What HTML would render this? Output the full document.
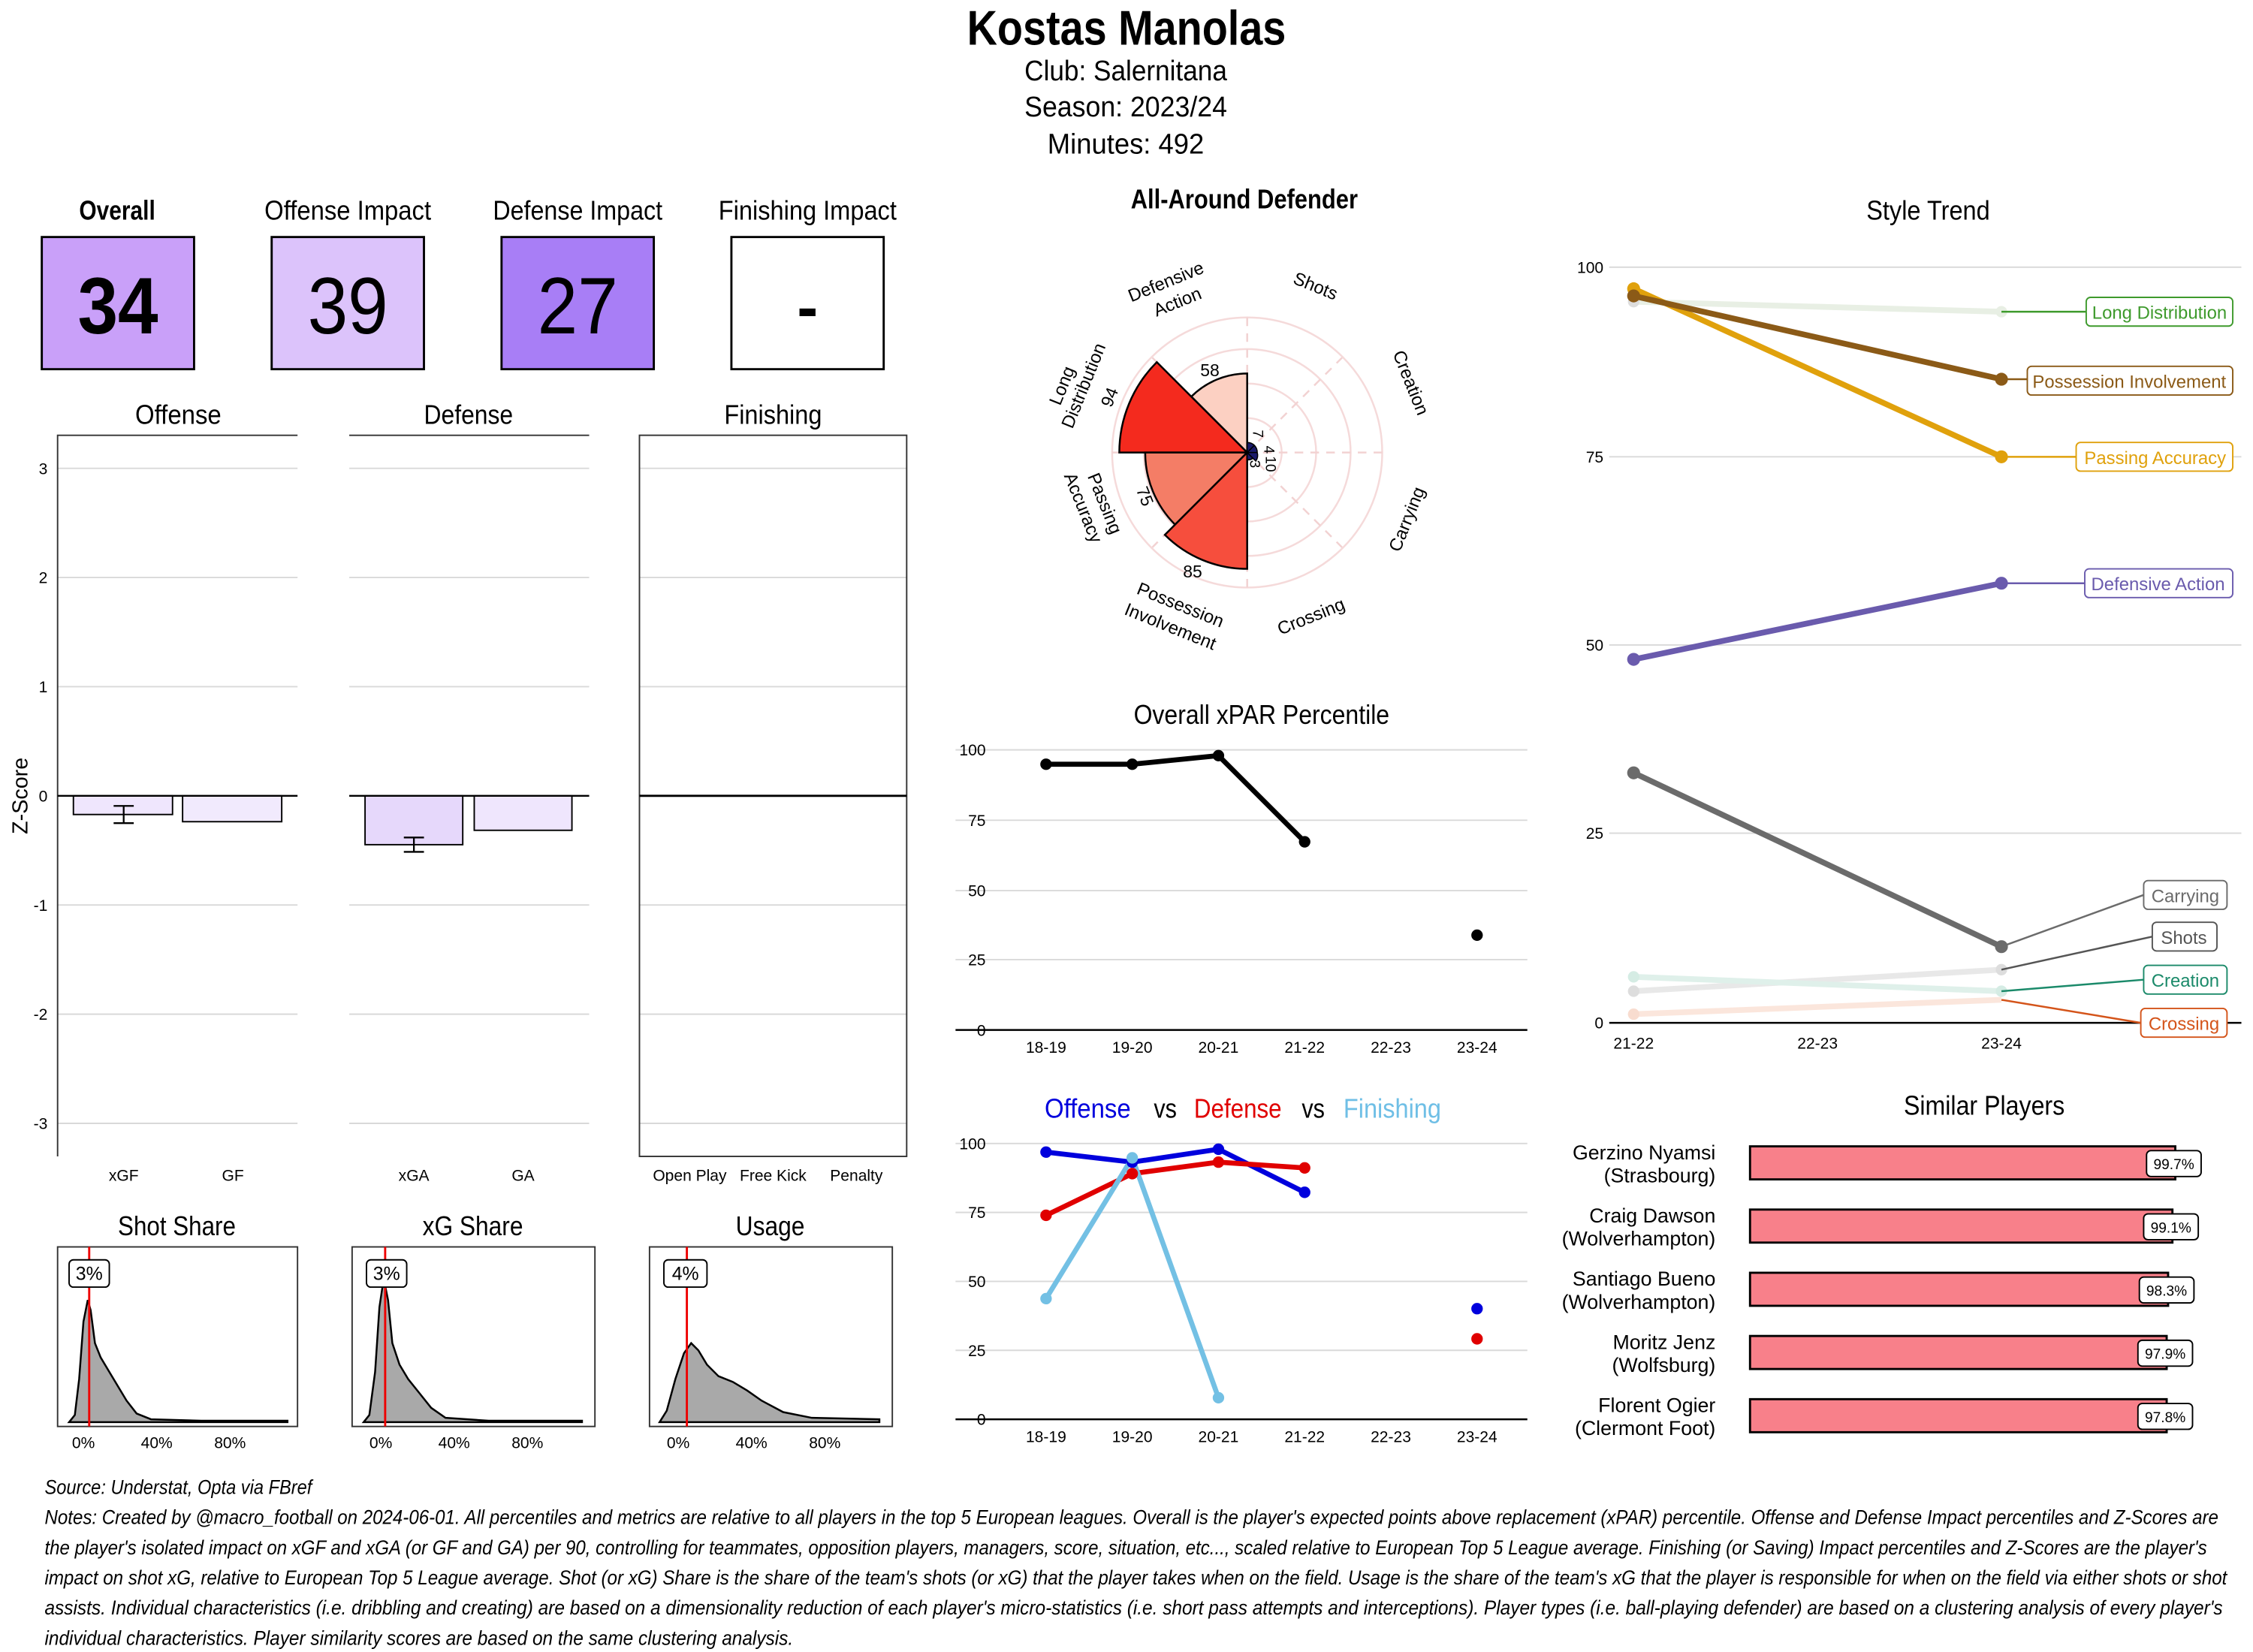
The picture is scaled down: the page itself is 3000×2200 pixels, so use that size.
<!DOCTYPE html>
<html><head><meta charset="utf-8"><style>
html,body{margin:0;padding:0;background:#fff}
svg{display:block}
text{font-family:"Liberation Sans Narrow","Liberation Sans",sans-serif;fill:#000}
.a{font-family:"Liberation Sans",sans-serif;font-size:11px;fill:#444}
.t{font-size:19px}
.g{stroke:#d9d9d9;stroke-width:1}
</style></head><body>
<svg width="3000" height="2200" viewBox="0 0 1568 1150" xmlns="http://www.w3.org/2000/svg">
<rect width="1568" height="1150" fill="#fff"/>
<!-- Header -->
<text x="673" y="31" font-size="34" font-weight="bold" textLength="222" lengthAdjust="spacingAndGlyphs">Kostas Manolas</text>
<text x="713" y="56" font-size="20" textLength="141" lengthAdjust="spacingAndGlyphs">Club:  Salernitana</text>
<text x="713" y="81" font-size="20" textLength="141" lengthAdjust="spacingAndGlyphs">Season:  2023/24</text>
<text x="729" y="107" font-size="20" textLength="109" lengthAdjust="spacingAndGlyphs">Minutes:  492</text>

<!-- Metric boxes -->
<text x="55" y="153" font-size="19" font-weight="bold" textLength="53" lengthAdjust="spacingAndGlyphs">Overall</text>
<text x="184" y="153" font-size="19" textLength="116" lengthAdjust="spacingAndGlyphs">Offense Impact</text>
<text x="343" y="153" font-size="19" textLength="118" lengthAdjust="spacingAndGlyphs">Defense Impact</text>
<text x="500" y="153" font-size="19" textLength="124" lengthAdjust="spacingAndGlyphs">Finishing Impact</text>
<rect x="29" y="165" width="106" height="92" fill="#c9a0f9" stroke="#000" stroke-width="1.5"/>
<rect x="189" y="165" width="106" height="92" fill="#dcc3fb" stroke="#000" stroke-width="1.5"/>
<rect x="349" y="165" width="106" height="92" fill="#a87ef6" stroke="#000" stroke-width="1.5"/>
<rect x="509" y="165" width="106" height="92" fill="#fff" stroke="#000" stroke-width="1.5"/>
<text x="82" y="232" text-anchor="middle" font-size="56" font-weight="bold" textLength="56" lengthAdjust="spacingAndGlyphs">34</text>
<text x="242" y="232" text-anchor="middle" font-size="56" textLength="56" lengthAdjust="spacingAndGlyphs">39</text>
<text x="402" y="232" text-anchor="middle" font-size="56" textLength="56" lengthAdjust="spacingAndGlyphs">27</text>
<text x="562" y="229" text-anchor="middle" font-size="44" font-weight="bold">-</text>

<!-- Z-score panels -->
<text x="124" y="295" text-anchor="middle" class="t" textLength="60" lengthAdjust="spacingAndGlyphs">Offense</text>
<text x="326" y="295" text-anchor="middle" class="t" textLength="62" lengthAdjust="spacingAndGlyphs">Defense</text>
<text x="538" y="295" text-anchor="middle" class="t" textLength="68" lengthAdjust="spacingAndGlyphs">Finishing</text>
<g class="g">
<line x1="40" x2="207" y1="326" y2="326"/><line x1="40" x2="207" y1="402" y2="402"/><line x1="40" x2="207" y1="478" y2="478"/><line x1="40" x2="207" y1="630" y2="630"/><line x1="40" x2="207" y1="706" y2="706"/><line x1="40" x2="207" y1="782" y2="782"/>
<line x1="243" x2="410" y1="326" y2="326"/><line x1="243" x2="410" y1="402" y2="402"/><line x1="243" x2="410" y1="478" y2="478"/><line x1="243" x2="410" y1="630" y2="630"/><line x1="243" x2="410" y1="706" y2="706"/><line x1="243" x2="410" y1="782" y2="782"/>
<line x1="445" x2="631" y1="326" y2="326"/><line x1="445" x2="631" y1="402" y2="402"/><line x1="445" x2="631" y1="478" y2="478"/><line x1="445" x2="631" y1="630" y2="630"/><line x1="445" x2="631" y1="706" y2="706"/><line x1="445" x2="631" y1="782" y2="782"/>
</g>
<g stroke="#333" fill="none" stroke-width="1">
<polyline points="40,805 40,303 207,303"/>
<line x1="243" y1="303" x2="410" y2="303"/>
<rect x="445" y="303" width="186" height="502"/>
</g>
<g class="a" font-size="11" text-anchor="end">
<text x="33" y="330">3</text><text x="33" y="406">2</text><text x="33" y="482">1</text><text x="33" y="558">0</text><text x="33" y="634">-1</text><text x="33" y="710">-2</text><text x="33" y="786">-3</text>
</g>
<text transform="translate(19,554) rotate(-90)" text-anchor="middle" font-size="15">Z-Score</text>
<rect x="51" y="554" width="69" height="13" fill="#efe6fd" stroke="#000"/>
<rect x="127" y="554" width="69" height="18" fill="#f1eafd" stroke="#000"/>
<rect x="254" y="554" width="68" height="34" fill="#e6d8fb" stroke="#000"/>
<rect x="330" y="554" width="68" height="24" fill="#efe6fd" stroke="#000"/>
<g stroke="#000" stroke-width="1.2">
<line x1="86" y1="561" x2="86" y2="573"/><line x1="79" y1="561" x2="93" y2="561"/><line x1="79" y1="573" x2="93" y2="573"/>
<line x1="288" y1="583" x2="288" y2="593"/><line x1="281" y1="583" x2="295" y2="583"/><line x1="281" y1="593" x2="295" y2="593"/>
<line x1="40" y1="554" x2="207" y2="554"/><line x1="243" y1="554" x2="410" y2="554"/><line x1="445" y1="554" x2="631" y2="554" stroke-width="1.5"/>
</g>
<g class="a" text-anchor="middle">
<text x="86" y="822">xGF</text><text x="162" y="822">GF</text><text x="288" y="822">xGA</text><text x="364" y="822">GA</text>
<text x="480" y="822">Open Play</text><text x="538" y="822">Free Kick</text><text x="596" y="822">Penalty</text>
</g>

<!-- Density plots -->
<text x="123" y="860" text-anchor="middle" class="t" textLength="82" lengthAdjust="spacingAndGlyphs">Shot Share</text>
<text x="329" y="860" text-anchor="middle" class="t" textLength="70" lengthAdjust="spacingAndGlyphs">xG Share</text>
<text x="536" y="860" text-anchor="middle" class="t" textLength="48" lengthAdjust="spacingAndGlyphs">Usage</text>
<g>
<rect x="40" y="868" width="167" height="125" fill="#fff" stroke="#333"/>
<path d="M48,990 L52,985 L55,960 L58,920 L61,905 L63,912 L66,935 L70,945 L76,955 L82,965 L88,975 L95,984 L105,988 L140,989 L200,989 L200,990 Z" fill="#a9a9a9" stroke="#000" stroke-width="1.3"/>
<line x1="62" y1="868" x2="62" y2="993" stroke="#e00" stroke-width="1.5"/>
<rect x="48" y="877" width="28" height="19" rx="3" fill="#fff" stroke="#000"/><text x="62" y="891" text-anchor="middle" font-size="13" font-family="Liberation Sans">3%</text>
<rect x="245" y="868" width="169" height="125" fill="#fff" stroke="#333"/>
<path d="M253,990 L257,985 L261,955 L264,910 L267,890 L270,905 L273,935 L278,950 L284,960 L292,970 L300,980 L310,987 L340,989 L405,989 L405,990 Z" fill="#a9a9a9" stroke="#000" stroke-width="1.3"/>
<line x1="268" y1="868" x2="268" y2="993" stroke="#e00" stroke-width="1.5"/>
<rect x="255" y="877" width="28" height="19" rx="3" fill="#fff" stroke="#000"/><text x="269" y="891" text-anchor="middle" font-size="13" font-family="Liberation Sans">3%</text>
<rect x="452" y="868" width="169" height="125" fill="#fff" stroke="#333"/>
<path d="M459,990 L464,982 L470,960 L476,942 L481,935 L486,940 L492,950 L500,958 L510,962 L520,968 L530,975 L545,983 L565,987 L612,988 L612,990 Z" fill="#a9a9a9" stroke="#000" stroke-width="1.3"/>
<line x1="478" y1="868" x2="478" y2="993" stroke="#e00" stroke-width="1.5"/>
<rect x="462" y="877" width="30" height="19" rx="3" fill="#fff" stroke="#000"/><text x="477" y="891" text-anchor="middle" font-size="13" font-family="Liberation Sans">4%</text>
</g>
<g class="a" text-anchor="middle">
<text x="58" y="1008">0%</text><text x="109" y="1008">40%</text><text x="160" y="1008">80%</text>
<text x="265" y="1008">0%</text><text x="316" y="1008">40%</text><text x="367" y="1008">80%</text>
<text x="472" y="1008">0%</text><text x="523" y="1008">40%</text><text x="574" y="1008">80%</text>
</g>

<!-- Polar -->
<text x="866" y="145" text-anchor="middle" font-size="19" font-weight="bold" textLength="158" lengthAdjust="spacingAndGlyphs">All-Around Defender</text>
<g transform="translate(868,315)">
<g fill="none" stroke="#f5dada" stroke-width="1.3">
<circle r="24"/><circle r="48"/><circle r="72"/><circle r="94"/>
</g>
<g stroke="#f2d2d2" stroke-width="1.3" stroke-dasharray="6,5">
<line x1="0" y1="0" x2="0" y2="-94"/><line x1="0" y1="0" x2="0" y2="94"/><line x1="0" y1="0" x2="94" y2="0"/><line x1="0" y1="0" x2="-94" y2="0"/>
<line x1="0" y1="0" x2="66" y2="-66"/><line x1="0" y1="0" x2="-66" y2="-66"/><line x1="0" y1="0" x2="66" y2="66"/><line x1="0" y1="0" x2="-66" y2="66"/>
</g>
<path d="M0,0 L0,-55 A55,55 0 0 0 -38.9,-38.9 Z" fill="#fcd0c2" stroke="#000" stroke-width="1.3"/>
<path d="M0,0 L-62.9,-62.9 A89,89 0 0 0 -89,0 Z" fill="#f42a1e" stroke="#000" stroke-width="1.3"/>
<path d="M0,0 L-71,0 A71,71 0 0 0 -50.2,50.2 Z" fill="#f47d66" stroke="#000" stroke-width="1.3"/>
<path d="M0,0 L-57.3,57.3 A81,81 0 0 0 0,81 Z" fill="#f64e3d" stroke="#000" stroke-width="1.3"/>
<path d="M0,0 L0,-7 A7,7 0 0 1 5,-5 Z M0,0 L5,-5 A7,7 0 0 1 7,0 Z M0,0 L7,0 A7,7 0 0 1 6,6 Z M0,0 L4,4 A5,5 0 0 1 0,5 Z" fill="#1a1a6a" stroke="#000" stroke-width="0.8"/>
<g font-size="12" text-anchor="middle" font-family="Liberation Sans">
<text x="-26" y="-53">58</text>
<text transform="translate(-92,-37) rotate(-68)">94</text>
<text transform="translate(-75,32) rotate(68)">75</text>
<text x="-38" y="87">85</text>
<text transform="translate(4,-13) rotate(90)" font-size="10">7</text>
<text transform="translate(12,-2) rotate(90)" font-size="10">4</text>
<text transform="translate(13,8) rotate(90)" font-size="10">10</text>
<text transform="translate(2,8) rotate(90)" font-size="10">3</text>
</g>
<g font-size="12.5" text-anchor="middle" font-family="Liberation Sans" fill="#222">
<text transform="translate(-55,-115) rotate(-22)">Defensive</text>
<text transform="translate(-47,-101) rotate(-22)">Action</text>
<text transform="translate(46,-112) rotate(22)">Shots</text>
<text transform="translate(110,-47) rotate(68)">Creation</text>
<text transform="translate(115,48) rotate(-68)">Carrying</text>
<text transform="translate(46,118) rotate(-22)">Crossing</text>
<text transform="translate(-48,110) rotate(22)">Possession</text>
<text transform="translate(-55,125) rotate(22)">Involvement</text>
<text transform="translate(-125,-45) rotate(-68)">Long</text>
<text transform="translate(-110,-45) rotate(-68)">Distribution</text>
<text transform="translate(-103,37) rotate(68)">Passing</text>
<text transform="translate(-118,40) rotate(68)">Accuracy</text>
</g>
</g>

<!-- xPAR -->
<text x="878" y="504" text-anchor="middle" class="t" textLength="178" lengthAdjust="spacingAndGlyphs">Overall xPAR Percentile</text>
<g class="g"><line x1="665" x2="1063" y1="522" y2="522"/><line x1="665" x2="1063" y1="571" y2="571"/><line x1="665" x2="1063" y1="620" y2="620"/><line x1="665" x2="1063" y1="668" y2="668"/></g>
<line x1="665" x2="1063" y1="717" y2="717" stroke="#000" stroke-width="1.3"/>
<g class="a" text-anchor="end"><text x="686" y="526">100</text><text x="686" y="575">75</text><text x="686" y="624">50</text><text x="686" y="672">25</text><text x="686" y="721">0</text></g>
<g class="a" text-anchor="middle"><text x="728" y="733">18-19</text><text x="788" y="733">19-20</text><text x="848" y="733">20-21</text><text x="908" y="733">21-22</text><text x="968" y="733">22-23</text><text x="1028" y="733">23-24</text></g>
<polyline points="728,532 788,532 848,526 908,586" fill="none" stroke="#000" stroke-width="3.5"/>
<g fill="#000"><circle cx="728" cy="532" r="4"/><circle cx="788" cy="532" r="4"/><circle cx="848" cy="526" r="4"/><circle cx="908" cy="586" r="4"/><circle cx="1028" cy="651" r="4"/></g>

<!-- Off vs Def vs Fin -->
<text x="727" y="778" class="t" style="fill:#0000dd" textLength="60" lengthAdjust="spacingAndGlyphs">Offense</text>
<text x="803" y="778" class="t" textLength="16" lengthAdjust="spacingAndGlyphs">vs</text>
<text x="831" y="778" class="t" style="fill:#e00000" textLength="61" lengthAdjust="spacingAndGlyphs">Defense</text>
<text x="906" y="778" class="t" textLength="16" lengthAdjust="spacingAndGlyphs">vs</text>
<text x="935" y="778" class="t" style="fill:#6fbfe6" textLength="68" lengthAdjust="spacingAndGlyphs">Finishing</text>
<g class="g"><line x1="665" x2="1063" y1="796" y2="796"/><line x1="665" x2="1063" y1="844" y2="844"/><line x1="665" x2="1063" y1="892" y2="892"/><line x1="665" x2="1063" y1="940" y2="940"/></g>
<line x1="665" x2="1063" y1="988" y2="988" stroke="#000" stroke-width="1.3"/>
<g class="a" text-anchor="end"><text x="686" y="800">100</text><text x="686" y="848">75</text><text x="686" y="896">50</text><text x="686" y="944">25</text><text x="686" y="992">0</text></g>
<g class="a" text-anchor="middle"><text x="728" y="1004">18-19</text><text x="788" y="1004">19-20</text><text x="848" y="1004">20-21</text><text x="908" y="1004">21-22</text><text x="968" y="1004">22-23</text><text x="1028" y="1004">23-24</text></g>
<polyline points="728,802 788,809 848,800 908,830" fill="none" stroke="#0000dd" stroke-width="3.5"/>
<polyline points="728,846 788,817 848,809 908,813" fill="none" stroke="#e00000" stroke-width="3.5"/>
<polyline points="728,904 788,806 848,973" fill="none" stroke="#73c0e4" stroke-width="3.5"/>
<g fill="#0000dd"><circle cx="728" cy="802" r="4"/><circle cx="788" cy="809" r="4"/><circle cx="848" cy="800" r="4"/><circle cx="908" cy="830" r="4"/><circle cx="1028" cy="911" r="4"/></g>
<g fill="#e00000"><circle cx="728" cy="846" r="4"/><circle cx="788" cy="817" r="4"/><circle cx="848" cy="809" r="4"/><circle cx="908" cy="813" r="4"/><circle cx="1028" cy="932" r="4"/></g>
<g fill="#73c0e4"><circle cx="728" cy="904" r="4"/><circle cx="788" cy="806" r="4"/><circle cx="848" cy="973" r="4"/></g>

<!-- Style Trend -->
<text x="1342" y="153" text-anchor="middle" class="t" textLength="86" lengthAdjust="spacingAndGlyphs">Style Trend</text>
<g class="g"><line x1="1120" x2="1560" y1="186" y2="186"/><line x1="1120" x2="1560" y1="318" y2="318"/><line x1="1120" x2="1560" y1="449" y2="449"/><line x1="1120" x2="1560" y1="580" y2="580"/></g>
<line x1="1120" x2="1560" y1="712" y2="712" stroke="#000" stroke-width="1.3"/>
<g class="a" text-anchor="end"><text x="1116" y="190">100</text><text x="1116" y="322">75</text><text x="1116" y="453">50</text><text x="1116" y="584">25</text><text x="1116" y="716">0</text></g>
<g class="a" text-anchor="middle"><text x="1137" y="730">21-22</text><text x="1265" y="730">22-23</text><text x="1393" y="730">23-24</text></g>
<polyline points="1137,210 1393,217" fill="none" stroke="#e8efe4" stroke-width="4"/>
<polyline points="1137,690 1393,675" fill="none" stroke="#e8e8e8" stroke-width="4"/>
<polyline points="1137,680 1393,690" fill="none" stroke="#dff0ea" stroke-width="4"/>
<polyline points="1137,706 1393,696" fill="none" stroke="#fbe6dc" stroke-width="4"/>
<g fill="#ddd"><circle cx="1137" cy="210" r="4"/><circle cx="1137" cy="690" r="4"/><circle cx="1137" cy="680" r="4" fill="#d5ece4"/><circle cx="1137" cy="706" r="4" fill="#f8dccf"/><circle cx="1393" cy="675" r="4"/><circle cx="1393" cy="690" r="4" fill="#d5ece4"/><circle cx="1393" cy="217" r="4" fill="#e8efe4"/></g>
<polyline points="1137,538 1393,659" fill="none" stroke="#6b6b6b" stroke-width="4"/>
<circle cx="1137" cy="538" r="4.5" fill="#6b6b6b"/><circle cx="1393" cy="659" r="4.5" fill="#6b6b6b"/>
<polyline points="1137,459 1393,406" fill="none" stroke="#6a5bad" stroke-width="4"/>
<circle cx="1137" cy="459" r="4.5" fill="#6a5bad"/><circle cx="1393" cy="406" r="4.5" fill="#6a5bad"/>
<polyline points="1137,201 1393,318" fill="none" stroke="#e0a10c" stroke-width="4"/>
<polyline points="1137,206 1393,264" fill="none" stroke="#8b5a17" stroke-width="4"/>
<circle cx="1137" cy="201" r="4.5" fill="#e0a10c"/><circle cx="1393" cy="318" r="4.5" fill="#e0a10c"/>
<circle cx="1137" cy="206" r="4.5" fill="#8b5a17"/><circle cx="1393" cy="264" r="4.5" fill="#8b5a17"/>
<g stroke-width="1.3">
<line x1="1393" y1="217" x2="1452" y2="217" stroke="#3e9a2c"/>
<line x1="1393" y1="264" x2="1411" y2="264" stroke="#8b5a17"/>
<line x1="1393" y1="318" x2="1445" y2="318" stroke="#e0a10c"/>
<line x1="1393" y1="406" x2="1451" y2="406" stroke="#6a5bad"/>
<line x1="1393" y1="659" x2="1492" y2="623" stroke="#6b6b6b"/>
<line x1="1393" y1="675" x2="1498" y2="652" stroke="#555"/>
<line x1="1393" y1="690" x2="1492" y2="682" stroke="#1b8a6a"/>
<line x1="1393" y1="696" x2="1490" y2="712" stroke="#d4541a"/>
</g>
<g font-family="Liberation Sans" font-size="12.5" text-anchor="middle">
<rect x="1452" y="207" width="102" height="20" rx="3" fill="#fff" stroke="#3e9a2c"/><text x="1503" y="222" style="fill:#3e9a2c">Long Distribution</text>
<rect x="1411" y="255" width="143" height="20" rx="3" fill="#fff" stroke="#8b5a17"/><text x="1482" y="270" style="fill:#8b5a17">Possession Involvement</text>
<rect x="1445" y="308" width="109" height="20" rx="3" fill="#fff" stroke="#e0a10c"/><text x="1500" y="323" style="fill:#e0a10c">Passing Accuracy</text>
<rect x="1451" y="396" width="103" height="20" rx="3" fill="#fff" stroke="#6a5bad"/><text x="1502" y="411" style="fill:#6a5bad">Defensive Action</text>
<rect x="1492" y="613" width="58" height="20" rx="3" fill="#fff" stroke="#6b6b6b"/><text x="1521" y="628" style="fill:#6b6b6b">Carrying</text>
<rect x="1498" y="642" width="45" height="20" rx="3" fill="#fff" stroke="#555"/><text x="1520" y="657" style="fill:#555">Shots</text>
<rect x="1492" y="672" width="58" height="20" rx="3" fill="#fff" stroke="#1b8a6a"/><text x="1521" y="687" style="fill:#1b8a6a">Creation</text>
<rect x="1490" y="702" width="60" height="20" rx="3" fill="#fff" stroke="#d4541a"/><text x="1520" y="717" style="fill:#d4541a">Crossing</text>
</g>

<!-- Similar Players -->
<text x="1381" y="776" text-anchor="middle" class="t" textLength="112" lengthAdjust="spacingAndGlyphs">Similar Players</text>
<g font-size="14" text-anchor="end">
<text x="1194" y="807">Gerzino Nyamsi</text><text x="1194" y="823">(Strasbourg)</text>
<text x="1194" y="851">Craig Dawson</text><text x="1194" y="867">(Wolverhampton)</text>
<text x="1194" y="895">Santiago Bueno</text><text x="1194" y="911">(Wolverhampton)</text>
<text x="1194" y="939">Moritz Jenz</text><text x="1194" y="955">(Wolfsburg)</text>
<text x="1194" y="983">Florent Ogier</text><text x="1194" y="999">(Clermont Foot)</text>
</g>
<g fill="#f8808a" stroke="#000" stroke-width="1.5">
<rect x="1218" y="798" width="296" height="23"/><rect x="1218" y="842" width="294" height="23"/><rect x="1218" y="886" width="291" height="23"/><rect x="1218" y="930" width="290" height="23"/><rect x="1218" y="974" width="290" height="23"/>
</g>
<g font-family="Liberation Sans" font-size="10" text-anchor="middle">
<rect x="1494" y="801" width="38" height="18" rx="3" fill="#fff" stroke="#000"/><text x="1513" y="814">99.7%</text>
<rect x="1492" y="845" width="38" height="18" rx="3" fill="#fff" stroke="#000"/><text x="1511" y="858">99.1%</text>
<rect x="1489" y="889" width="38" height="18" rx="3" fill="#fff" stroke="#000"/><text x="1508" y="902">98.3%</text>
<rect x="1488" y="933" width="38" height="18" rx="3" fill="#fff" stroke="#000"/><text x="1507" y="946">97.9%</text>
<rect x="1488" y="977" width="38" height="18" rx="3" fill="#fff" stroke="#000"/><text x="1507" y="990">97.8%</text>
</g>

<!-- Footer -->
<g font-size="14" font-style="italic">
<text x="31" y="1040" textLength="186" lengthAdjust="spacingAndGlyphs">Source: Understat, Opta via FBref</text>
<text x="31" y="1061" textLength="1513" lengthAdjust="spacingAndGlyphs">Notes: Created by @macro_football on 2024-06-01. All percentiles and metrics are relative to all players in the top 5 European leagues. Overall is the player's expected points above replacement (xPAR) percentile. Offense and Defense Impact percentiles and Z-Scores are</text>
<text x="31" y="1082" textLength="1505" lengthAdjust="spacingAndGlyphs">the player's isolated impact on xGF and xGA (or GF and GA) per 90, controlling for teammates, opposition players, managers, score, situation, etc..., scaled relative to European Top 5 League average. Finishing (or Saving) Impact percentiles and Z-Scores are the player's</text>
<text x="31" y="1103" textLength="1519" lengthAdjust="spacingAndGlyphs">impact on shot xG, relative to European Top 5 League average. Shot (or xG) Share is the share of the team's shots (or xG) that the player takes when on the field. Usage is the share of the team's xG that the player is responsible for when on the field via either shots or shot</text>
<text x="31" y="1124" textLength="1516" lengthAdjust="spacingAndGlyphs">assists. Individual characteristics (i.e. dribbling and creating) are based on a dimensionality reduction of each player's micro-statistics (i.e. short pass attempts and interceptions). Player types (i.e. ball-playing defender) are based on a clustering analysis of every player's</text>
<text x="31" y="1145" textLength="521" lengthAdjust="spacingAndGlyphs">individual characteristics. Player similarity scores are based on the same clustering analysis.</text>
</g>
</svg>
</body></html>
